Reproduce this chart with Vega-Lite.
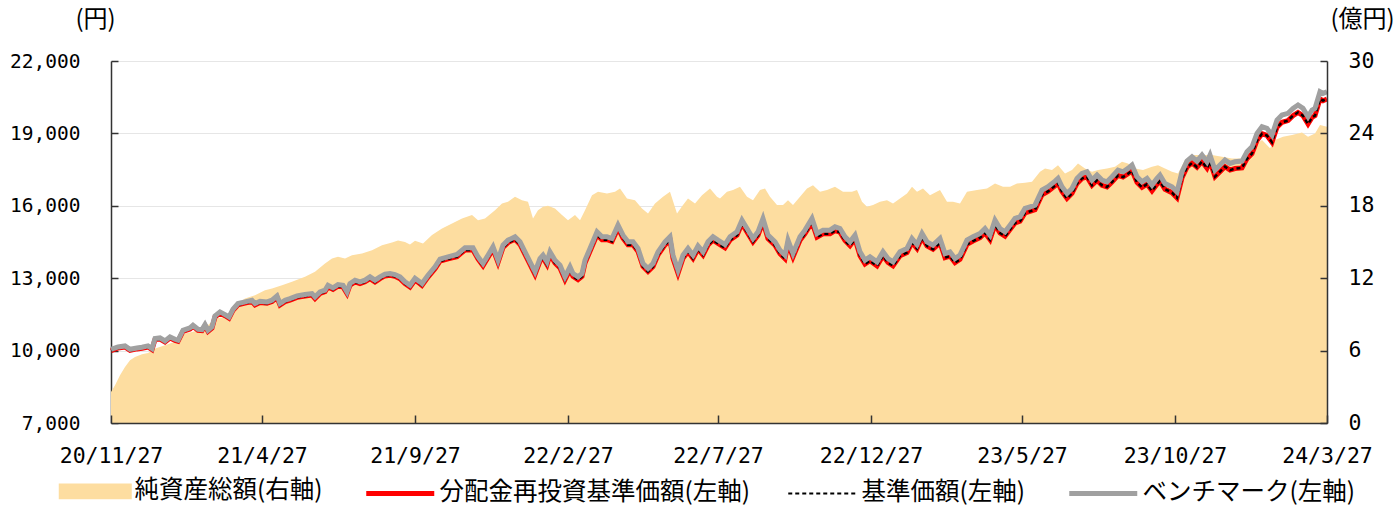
{
  "$schema": "https://vega.github.io/schema/vega-lite/v6.json",
  "width": 1216,
  "height": 362,
  "autosize": "none",
  "padding": {"left": 111, "top": 61, "right": 71, "bottom": 85},
  "background": "white",
  "config": {
    "font": "Noto Sans CJK JP",
    "view": {"stroke": null},
    "axis": {"domainColor": "#333333", "domainWidth": 1.5, "tickColor": "#333333", "tickWidth": 1.5, "labelColor": "#000000", "gridColor": "#E6E6E6", "gridWidth": 1, "titleFontWeight": "normal", "titleColor": "#000000"}
  },
  "datasets": {
    "nav": [
      {"date": "2020-11-27", "nav": 10000, "bm": 10050},
      {"date": "2020-12-04", "nav": 10110, "bm": 10152},
      {"date": "2020-12-11", "nav": 10150, "bm": 10194},
      {"date": "2020-12-16", "nav": 10010, "bm": 10055},
      {"date": "2020-12-23", "nav": 10070, "bm": 10111},
      {"date": "2020-12-28", "nav": 10095, "bm": 10138},
      {"date": "2021-01-03", "nav": 10150, "bm": 10194},
      {"date": "2021-01-07", "nav": 10040, "bm": 10083},
      {"date": "2021-01-10", "nav": 10455, "bm": 10500},
      {"date": "2021-01-15", "nav": 10480, "bm": 10525},
      {"date": "2021-01-20", "nav": 10360, "bm": 10401},
      {"date": "2021-01-25", "nav": 10520, "bm": 10567},
      {"date": "2021-01-30", "nav": 10425, "bm": 10470},
      {"date": "2021-02-02", "nav": 10385, "bm": 10428},
      {"date": "2021-02-07", "nav": 10800, "bm": 10843},
      {"date": "2021-02-14", "nav": 10895, "bm": 10940},
      {"date": "2021-02-17", "nav": 11005, "bm": 11050},
      {"date": "2021-02-22", "nav": 10840, "bm": 10884},
      {"date": "2021-02-26", "nav": 10825, "bm": 10870},
      {"date": "2021-03-01", "nav": 11030, "bm": 11078},
      {"date": "2021-03-04", "nav": 10795, "bm": 10843},
      {"date": "2021-03-08", "nav": 10935, "bm": 10981},
      {"date": "2021-03-11", "nav": 11390, "bm": 11438},
      {"date": "2021-03-16", "nav": 11555, "bm": 11604},
      {"date": "2021-03-21", "nav": 11445, "bm": 11493},
      {"date": "2021-03-25", "nav": 11345, "bm": 11396},
      {"date": "2021-03-29", "nav": 11665, "bm": 11714},
      {"date": "2021-04-03", "nav": 11900, "bm": 11950},
      {"date": "2021-04-10", "nav": 11965, "bm": 12018},
      {"date": "2021-04-17", "nav": 12035, "bm": 12087},
      {"date": "2021-04-20", "nav": 11895, "bm": 11950},
      {"date": "2021-04-25", "nav": 11990, "bm": 12046},
      {"date": "2021-05-02", "nav": 11960, "bm": 12018},
      {"date": "2021-05-07", "nav": 12030, "bm": 12087},
      {"date": "2021-05-12", "nav": 12210, "bm": 12267},
      {"date": "2021-05-15", "nav": 11890, "bm": 11950},
      {"date": "2021-05-20", "nav": 12030, "bm": 12087},
      {"date": "2021-05-25", "nav": 12095, "bm": 12156},
      {"date": "2021-06-01", "nav": 12205, "bm": 12267},
      {"date": "2021-06-09", "nav": 12260, "bm": 12322},
      {"date": "2021-06-16", "nav": 12300, "bm": 12364},
      {"date": "2021-06-19", "nav": 12160, "bm": 12225},
      {"date": "2021-06-24", "nav": 12370, "bm": 12433},
      {"date": "2021-06-29", "nav": 12440, "bm": 12502},
      {"date": "2021-07-02", "nav": 12645, "bm": 12709},
      {"date": "2021-07-07", "nav": 12535, "bm": 12599},
      {"date": "2021-07-12", "nav": 12670, "bm": 12737},
      {"date": "2021-07-17", "nav": 12640, "bm": 12709},
      {"date": "2021-07-21", "nav": 12365, "bm": 12433},
      {"date": "2021-07-24", "nav": 12710, "bm": 12779},
      {"date": "2021-07-29", "nav": 12850, "bm": 12917},
      {"date": "2021-08-03", "nav": 12780, "bm": 12848},
      {"date": "2021-08-08", "nav": 12850, "bm": 12917},
      {"date": "2021-08-13", "nav": 12985, "bm": 13055},
      {"date": "2021-08-18", "nav": 12845, "bm": 12917},
      {"date": "2021-08-23", "nav": 12985, "bm": 13055},
      {"date": "2021-08-28", "nav": 13095, "bm": 13166},
      {"date": "2021-09-02", "nav": 13120, "bm": 13194},
      {"date": "2021-09-07", "nav": 13080, "bm": 13152},
      {"date": "2021-09-12", "nav": 12980, "bm": 13055},
      {"date": "2021-09-17", "nav": 12775, "bm": 12848},
      {"date": "2021-09-22", "nav": 12635, "bm": 12709},
      {"date": "2021-09-27", "nav": 12925, "bm": 13000},
      {"date": "2021-10-02", "nav": 12770, "bm": 12848},
      {"date": "2021-10-04", "nav": 12700, "bm": 12779},
      {"date": "2021-10-10", "nav": 13045, "bm": 13124},
      {"date": "2021-10-17", "nav": 13390, "bm": 13470},
      {"date": "2021-10-22", "nav": 13705, "bm": 13788},
      {"date": "2021-10-30", "nav": 13800, "bm": 13885},
      {"date": "2021-11-08", "nav": 13895, "bm": 13982},
      {"date": "2021-11-16", "nav": 14170, "bm": 14258},
      {"date": "2021-11-24", "nav": 14170, "bm": 14258},
      {"date": "2021-11-29", "nav": 13795, "bm": 13885},
      {"date": "2021-12-04", "nav": 13515, "bm": 13608},
      {"date": "2021-12-09", "nav": 13860, "bm": 13954},
      {"date": "2021-12-14", "nav": 14205, "bm": 14300},
      {"date": "2021-12-19", "nav": 13650, "bm": 13746},
      {"date": "2021-12-24", "nav": 14270, "bm": 14369},
      {"date": "2021-12-29", "nav": 14475, "bm": 14576},
      {"date": "2022-01-05", "nav": 14610, "bm": 14714},
      {"date": "2022-01-10", "nav": 14400, "bm": 14507},
      {"date": "2022-01-15", "nav": 13985, "bm": 14092},
      {"date": "2022-01-20", "nav": 13570, "bm": 13678},
      {"date": "2022-01-25", "nav": 13155, "bm": 13263},
      {"date": "2022-01-30", "nav": 13705, "bm": 13815},
      {"date": "2022-02-02", "nav": 13845, "bm": 13954},
      {"date": "2022-02-06", "nav": 13565, "bm": 13678},
      {"date": "2022-02-09", "nav": 13980, "bm": 14092},
      {"date": "2022-02-14", "nav": 13635, "bm": 13746},
      {"date": "2022-02-19", "nav": 13425, "bm": 13539},
      {"date": "2022-02-24", "nav": 12940, "bm": 13055},
      {"date": "2022-03-01", "nav": 13355, "bm": 13470},
      {"date": "2022-03-04", "nav": 13080, "bm": 13194},
      {"date": "2022-03-09", "nav": 12940, "bm": 13055},
      {"date": "2022-03-13", "nav": 13075, "bm": 13194},
      {"date": "2022-03-16", "nav": 13630, "bm": 13746},
      {"date": "2022-03-21", "nav": 14115, "bm": 14231},
      {"date": "2022-03-28", "nav": 14800, "bm": 14922},
      {"date": "2022-04-02", "nav": 14595, "bm": 14714},
      {"date": "2022-04-07", "nav": 14595, "bm": 14714},
      {"date": "2022-04-12", "nav": 14525, "bm": 14645},
      {"date": "2022-04-18", "nav": 15075, "bm": 15198},
      {"date": "2022-04-23", "nav": 14660, "bm": 14783},
      {"date": "2022-04-28", "nav": 14385, "bm": 14507},
      {"date": "2022-05-03", "nav": 14385, "bm": 14507},
      {"date": "2022-05-08", "nav": 14105, "bm": 14231},
      {"date": "2022-05-13", "nav": 13485, "bm": 13608},
      {"date": "2022-05-18", "nav": 13275, "bm": 13401},
      {"date": "2022-05-23", "nav": 13480, "bm": 13608},
      {"date": "2022-05-28", "nav": 13965, "bm": 14092},
      {"date": "2022-06-04", "nav": 14380, "bm": 14507},
      {"date": "2022-06-09", "nav": 14585, "bm": 14714},
      {"date": "2022-06-12", "nav": 13825, "bm": 13954},
      {"date": "2022-06-17", "nav": 13200, "bm": 13332},
      {"date": "2022-06-22", "nav": 13825, "bm": 13954},
      {"date": "2022-06-27", "nav": 14100, "bm": 14231},
      {"date": "2022-07-02", "nav": 13820, "bm": 13954},
      {"date": "2022-07-07", "nav": 14210, "bm": 14341},
      {"date": "2022-07-12", "nav": 13960, "bm": 14092},
      {"date": "2022-07-17", "nav": 14375, "bm": 14507},
      {"date": "2022-07-22", "nav": 14580, "bm": 14714},
      {"date": "2022-07-27", "nav": 14440, "bm": 14576},
      {"date": "2022-08-03", "nav": 14260, "bm": 14396},
      {"date": "2022-08-08", "nav": 14580, "bm": 14714},
      {"date": "2022-08-15", "nav": 14785, "bm": 14922},
      {"date": "2022-08-20", "nav": 15270, "bm": 15406},
      {"date": "2022-08-25", "nav": 14920, "bm": 15060},
      {"date": "2022-08-31", "nav": 14505, "bm": 14645},
      {"date": "2022-09-05", "nav": 14780, "bm": 14922},
      {"date": "2022-09-10", "nav": 15335, "bm": 15475},
      {"date": "2022-09-15", "nav": 14640, "bm": 14783},
      {"date": "2022-09-22", "nav": 14365, "bm": 14507},
      {"date": "2022-09-27", "nav": 14020, "bm": 14161},
      {"date": "2022-10-02", "nav": 13810, "bm": 13954},
      {"date": "2022-10-05", "nav": 14430, "bm": 14576},
      {"date": "2022-10-10", "nav": 13880, "bm": 14023},
      {"date": "2022-10-17", "nav": 14570, "bm": 14714},
      {"date": "2022-10-22", "nav": 14845, "bm": 14991},
      {"date": "2022-10-29", "nav": 15325, "bm": 15475},
      {"date": "2022-11-03", "nav": 14705, "bm": 14853},
      {"date": "2022-11-09", "nav": 14840, "bm": 14991},
      {"date": "2022-11-16", "nav": 14840, "bm": 14991},
      {"date": "2022-11-21", "nav": 14975, "bm": 15129},
      {"date": "2022-11-26", "nav": 14905, "bm": 15060},
      {"date": "2022-12-01", "nav": 14560, "bm": 14714},
      {"date": "2022-12-06", "nav": 14350, "bm": 14507},
      {"date": "2022-12-11", "nav": 14625, "bm": 14783},
      {"date": "2022-12-16", "nav": 13935, "bm": 14092},
      {"date": "2022-12-21", "nav": 13590, "bm": 13746},
      {"date": "2022-12-26", "nav": 13725, "bm": 13885},
      {"date": "2023-01-02", "nav": 13515, "bm": 13678},
      {"date": "2023-01-08", "nav": 13930, "bm": 14092},
      {"date": "2023-01-13", "nav": 13655, "bm": 13815},
      {"date": "2023-01-18", "nav": 13515, "bm": 13678},
      {"date": "2023-01-25", "nav": 13930, "bm": 14092},
      {"date": "2023-02-01", "nav": 14065, "bm": 14231},
      {"date": "2023-02-06", "nav": 14480, "bm": 14645},
      {"date": "2023-02-11", "nav": 14230, "bm": 14396},
      {"date": "2023-02-16", "nav": 14685, "bm": 14853},
      {"date": "2023-02-21", "nav": 14340, "bm": 14507},
      {"date": "2023-02-27", "nav": 14200, "bm": 14369},
      {"date": "2023-03-06", "nav": 14475, "bm": 14645},
      {"date": "2023-03-11", "nav": 13855, "bm": 14023},
      {"date": "2023-03-16", "nav": 13920, "bm": 14092},
      {"date": "2023-03-21", "nav": 13645, "bm": 13815},
      {"date": "2023-03-26", "nav": 13780, "bm": 13954},
      {"date": "2023-04-02", "nav": 14400, "bm": 14576},
      {"date": "2023-04-08", "nav": 14540, "bm": 14714},
      {"date": "2023-04-15", "nav": 14675, "bm": 14853},
      {"date": "2023-04-20", "nav": 14880, "bm": 15060},
      {"date": "2023-04-25", "nav": 14600, "bm": 14783},
      {"date": "2023-04-30", "nav": 15225, "bm": 15406},
      {"date": "2023-05-05", "nav": 14875, "bm": 15060},
      {"date": "2023-05-10", "nav": 14740, "bm": 14922},
      {"date": "2023-05-15", "nav": 15015, "bm": 15198},
      {"date": "2023-05-20", "nav": 15290, "bm": 15475},
      {"date": "2023-05-25", "nav": 15360, "bm": 15544},
      {"date": "2023-05-30", "nav": 15705, "bm": 15890},
      {"date": "2023-06-04", "nav": 15770, "bm": 15958},
      {"date": "2023-06-09", "nav": 15840, "bm": 16028},
      {"date": "2023-06-16", "nav": 16460, "bm": 16650},
      {"date": "2023-06-22", "nav": 16595, "bm": 16788},
      {"date": "2023-06-29", "nav": 16830, "bm": 17023},
      {"date": "2023-07-02", "nav": 16940, "bm": 17134},
      {"date": "2023-07-06", "nav": 16590, "bm": 16788},
      {"date": "2023-07-11", "nav": 16310, "bm": 16512},
      {"date": "2023-07-16", "nav": 16515, "bm": 16719},
      {"date": "2023-07-21", "nav": 16930, "bm": 17134},
      {"date": "2023-07-26", "nav": 17135, "bm": 17341},
      {"date": "2023-07-31", "nav": 17200, "bm": 17410},
      {"date": "2023-08-05", "nav": 16855, "bm": 17065},
      {"date": "2023-08-10", "nav": 17060, "bm": 17272},
      {"date": "2023-08-15", "nav": 16850, "bm": 17065},
      {"date": "2023-08-20", "nav": 16780, "bm": 16995},
      {"date": "2023-08-25", "nav": 16985, "bm": 17203},
      {"date": "2023-08-31", "nav": 17260, "bm": 17479},
      {"date": "2023-09-05", "nav": 17190, "bm": 17410},
      {"date": "2023-09-10", "nav": 17325, "bm": 17548},
      {"date": "2023-09-14", "nav": 17460, "bm": 17687},
      {"date": "2023-09-19", "nav": 16975, "bm": 17203},
      {"date": "2023-09-24", "nav": 16765, "bm": 16995},
      {"date": "2023-09-29", "nav": 16900, "bm": 17134},
      {"date": "2023-10-04", "nav": 16620, "bm": 16857},
      {"date": "2023-10-09", "nav": 16895, "bm": 17134},
      {"date": "2023-10-12", "nav": 17030, "bm": 17272},
      {"date": "2023-10-17", "nav": 16685, "bm": 16926},
      {"date": "2023-10-24", "nav": 16545, "bm": 16788},
      {"date": "2023-10-29", "nav": 16335, "bm": 16581},
      {"date": "2023-11-03", "nav": 17160, "bm": 17410},
      {"date": "2023-11-08", "nav": 17600, "bm": 17852},
      {"date": "2023-11-13", "nav": 17775, "bm": 18032},
      {"date": "2023-11-18", "nav": 17595, "bm": 17852},
      {"date": "2023-11-23", "nav": 17840, "bm": 18101},
      {"date": "2023-11-28", "nav": 17560, "bm": 17825},
      {"date": "2023-12-01", "nav": 17835, "bm": 18101},
      {"date": "2023-12-06", "nav": 17210, "bm": 17479},
      {"date": "2023-12-11", "nav": 17415, "bm": 17687},
      {"date": "2023-12-16", "nav": 17620, "bm": 17894},
      {"date": "2023-12-21", "nav": 17480, "bm": 17756},
      {"date": "2023-12-26", "nav": 17545, "bm": 17825},
      {"date": "2024-01-02", "nav": 17570, "bm": 17852},
      {"date": "2024-01-07", "nav": 17955, "bm": 18239},
      {"date": "2024-01-12", "nav": 18160, "bm": 18446},
      {"date": "2024-01-17", "nav": 18710, "bm": 19000},
      {"date": "2024-01-22", "nav": 18985, "bm": 19277},
      {"date": "2024-01-27", "nav": 18915, "bm": 19208},
      {"date": "2024-02-01", "nav": 18635, "bm": 18931},
      {"date": "2024-02-06", "nav": 19255, "bm": 19553},
      {"date": "2024-02-11", "nav": 19460, "bm": 19760},
      {"date": "2024-02-17", "nav": 19530, "bm": 19830},
      {"date": "2024-02-22", "nav": 19735, "bm": 20037},
      {"date": "2024-02-27", "nav": 19870, "bm": 20175},
      {"date": "2024-03-03", "nav": 19735, "bm": 20037},
      {"date": "2024-03-08", "nav": 19390, "bm": 19691},
      {"date": "2024-03-12", "nav": 19665, "bm": 19968},
      {"date": "2024-03-15", "nav": 19735, "bm": 20037},
      {"date": "2024-03-20", "nav": 20425, "bm": 20728},
      {"date": "2024-03-23", "nav": 20355, "bm": 20659},
      {"date": "2024-03-27", "nav": 20425, "bm": 20728}
    ],
    "assets": [
      {"date": "2020-11-27", "v": 2.57},
      {"date": "2020-12-01", "v": 3.12},
      {"date": "2020-12-06", "v": 3.95},
      {"date": "2020-12-11", "v": 4.64},
      {"date": "2020-12-16", "v": 5.2},
      {"date": "2020-12-21", "v": 5.47},
      {"date": "2020-12-28", "v": 5.7},
      {"date": "2021-01-03", "v": 5.81},
      {"date": "2021-01-10", "v": 6.17},
      {"date": "2021-01-20", "v": 6.44},
      {"date": "2021-01-27", "v": 6.66},
      {"date": "2021-02-02", "v": 6.77},
      {"date": "2021-02-09", "v": 7.41},
      {"date": "2021-02-16", "v": 7.55},
      {"date": "2021-02-22", "v": 7.69},
      {"date": "2021-03-01", "v": 7.88},
      {"date": "2021-03-11", "v": 8.65},
      {"date": "2021-03-21", "v": 8.79},
      {"date": "2021-03-28", "v": 9.07},
      {"date": "2021-04-03", "v": 9.9},
      {"date": "2021-04-10", "v": 10.31},
      {"date": "2021-04-20", "v": 10.59},
      {"date": "2021-04-30", "v": 11.0},
      {"date": "2021-05-07", "v": 11.14},
      {"date": "2021-05-17", "v": 11.42},
      {"date": "2021-05-27", "v": 11.7},
      {"date": "2021-06-09", "v": 12.11},
      {"date": "2021-06-19", "v": 12.53},
      {"date": "2021-06-29", "v": 13.22},
      {"date": "2021-07-06", "v": 13.63},
      {"date": "2021-07-12", "v": 13.77},
      {"date": "2021-07-19", "v": 13.63},
      {"date": "2021-07-26", "v": 13.91},
      {"date": "2021-08-05", "v": 14.05},
      {"date": "2021-08-15", "v": 14.32},
      {"date": "2021-08-25", "v": 14.74},
      {"date": "2021-09-04", "v": 14.96},
      {"date": "2021-09-10", "v": 15.12},
      {"date": "2021-09-17", "v": 15.01},
      {"date": "2021-09-22", "v": 14.79},
      {"date": "2021-09-27", "v": 15.1},
      {"date": "2021-10-05", "v": 14.88},
      {"date": "2021-10-14", "v": 15.57},
      {"date": "2021-10-24", "v": 16.12},
      {"date": "2021-11-03", "v": 16.53},
      {"date": "2021-11-13", "v": 16.95},
      {"date": "2021-11-23", "v": 17.23},
      {"date": "2021-11-29", "v": 16.81},
      {"date": "2021-12-06", "v": 16.95},
      {"date": "2021-12-16", "v": 17.64},
      {"date": "2021-12-23", "v": 18.19},
      {"date": "2021-12-29", "v": 18.33},
      {"date": "2022-01-05", "v": 18.75},
      {"date": "2022-01-12", "v": 18.47},
      {"date": "2022-01-18", "v": 18.33},
      {"date": "2022-01-23", "v": 16.95},
      {"date": "2022-01-28", "v": 17.64},
      {"date": "2022-02-02", "v": 17.92},
      {"date": "2022-02-07", "v": 18.0},
      {"date": "2022-02-14", "v": 17.78},
      {"date": "2022-02-21", "v": 17.23},
      {"date": "2022-02-27", "v": 16.81},
      {"date": "2022-03-06", "v": 17.23},
      {"date": "2022-03-11", "v": 16.81},
      {"date": "2022-03-16", "v": 17.64},
      {"date": "2022-03-23", "v": 18.88},
      {"date": "2022-03-29", "v": 19.16},
      {"date": "2022-04-07", "v": 19.02},
      {"date": "2022-04-15", "v": 19.16},
      {"date": "2022-04-20", "v": 19.44},
      {"date": "2022-04-27", "v": 18.61},
      {"date": "2022-05-05", "v": 18.47},
      {"date": "2022-05-12", "v": 17.78},
      {"date": "2022-05-18", "v": 17.36},
      {"date": "2022-05-25", "v": 18.19},
      {"date": "2022-06-02", "v": 18.75},
      {"date": "2022-06-09", "v": 19.16},
      {"date": "2022-06-16", "v": 17.36},
      {"date": "2022-06-22", "v": 18.06},
      {"date": "2022-06-27", "v": 18.61},
      {"date": "2022-07-04", "v": 18.19},
      {"date": "2022-07-11", "v": 18.88},
      {"date": "2022-07-19", "v": 19.44},
      {"date": "2022-07-26", "v": 18.75},
      {"date": "2022-07-29", "v": 18.61},
      {"date": "2022-08-05", "v": 19.16},
      {"date": "2022-08-11", "v": 19.3},
      {"date": "2022-08-18", "v": 19.58},
      {"date": "2022-08-25", "v": 18.75},
      {"date": "2022-08-31", "v": 18.47},
      {"date": "2022-09-07", "v": 19.3},
      {"date": "2022-09-12", "v": 19.44},
      {"date": "2022-09-17", "v": 18.75},
      {"date": "2022-09-24", "v": 18.06},
      {"date": "2022-09-30", "v": 18.06},
      {"date": "2022-10-05", "v": 18.47},
      {"date": "2022-10-10", "v": 18.06},
      {"date": "2022-10-17", "v": 18.75},
      {"date": "2022-10-24", "v": 19.44},
      {"date": "2022-10-30", "v": 19.71},
      {"date": "2022-11-06", "v": 19.16},
      {"date": "2022-11-13", "v": 19.3},
      {"date": "2022-11-21", "v": 19.58},
      {"date": "2022-11-29", "v": 19.16},
      {"date": "2022-12-08", "v": 19.16},
      {"date": "2022-12-13", "v": 19.3},
      {"date": "2022-12-18", "v": 18.33},
      {"date": "2022-12-23", "v": 17.92},
      {"date": "2022-12-29", "v": 18.06},
      {"date": "2023-01-05", "v": 18.33},
      {"date": "2023-01-12", "v": 18.47},
      {"date": "2023-01-18", "v": 18.19},
      {"date": "2023-01-25", "v": 18.61},
      {"date": "2023-02-01", "v": 19.02},
      {"date": "2023-02-06", "v": 19.58},
      {"date": "2023-02-11", "v": 19.16},
      {"date": "2023-02-17", "v": 19.44},
      {"date": "2023-02-24", "v": 18.88},
      {"date": "2023-03-06", "v": 19.3},
      {"date": "2023-03-13", "v": 18.33},
      {"date": "2023-03-19", "v": 18.33},
      {"date": "2023-03-26", "v": 18.19},
      {"date": "2023-04-02", "v": 19.16},
      {"date": "2023-04-12", "v": 19.3},
      {"date": "2023-04-22", "v": 19.44},
      {"date": "2023-04-30", "v": 19.85},
      {"date": "2023-05-08", "v": 19.58},
      {"date": "2023-05-15", "v": 19.58},
      {"date": "2023-05-22", "v": 19.85},
      {"date": "2023-05-30", "v": 19.9},
      {"date": "2023-06-06", "v": 19.99},
      {"date": "2023-06-14", "v": 20.82},
      {"date": "2023-06-19", "v": 21.1},
      {"date": "2023-06-26", "v": 20.96},
      {"date": "2023-07-02", "v": 21.37},
      {"date": "2023-07-09", "v": 20.68},
      {"date": "2023-07-16", "v": 20.96},
      {"date": "2023-07-22", "v": 21.51},
      {"date": "2023-07-29", "v": 21.1},
      {"date": "2023-08-05", "v": 20.82},
      {"date": "2023-08-11", "v": 20.96},
      {"date": "2023-08-20", "v": 21.1},
      {"date": "2023-08-28", "v": 21.24},
      {"date": "2023-09-04", "v": 21.65},
      {"date": "2023-09-10", "v": 21.51},
      {"date": "2023-09-17", "v": 21.1},
      {"date": "2023-09-25", "v": 20.96},
      {"date": "2023-10-04", "v": 21.24},
      {"date": "2023-10-10", "v": 21.37},
      {"date": "2023-10-17", "v": 21.1},
      {"date": "2023-10-24", "v": 20.82},
      {"date": "2023-10-30", "v": 20.68},
      {"date": "2023-11-06", "v": 21.79},
      {"date": "2023-11-13", "v": 22.2},
      {"date": "2023-11-23", "v": 22.2},
      {"date": "2023-12-03", "v": 22.2},
      {"date": "2023-12-13", "v": 22.06},
      {"date": "2023-12-23", "v": 21.93},
      {"date": "2024-01-02", "v": 21.93},
      {"date": "2024-01-08", "v": 22.48},
      {"date": "2024-01-15", "v": 23.03},
      {"date": "2024-01-22", "v": 23.45},
      {"date": "2024-01-30", "v": 22.76},
      {"date": "2024-02-04", "v": 23.45},
      {"date": "2024-02-12", "v": 23.72},
      {"date": "2024-02-21", "v": 23.86},
      {"date": "2024-03-02", "v": 24.08},
      {"date": "2024-03-08", "v": 23.72},
      {"date": "2024-03-15", "v": 24.0},
      {"date": "2024-03-20", "v": 24.69},
      {"date": "2024-03-27", "v": 24.55}
    ]
  },
  "layer": [
    {
      "data": {"name": "assets"},
      "mark": {"type": "area"},
      "encoding": {
        "x": {
          "field": "date", "type": "temporal",
          "scale": {"type": "utc", "domain": [{"year": 2020, "month": 11, "date": 27, "utc": true}, {"year": 2024, "month": 3, "date": 27, "utc": true}]},
          "axis": {
            "values": [
              {"year": 2020, "month": 11, "date": 27, "utc": true},
              {"year": 2021, "month": 4, "date": 27, "utc": true},
              {"year": 2021, "month": 9, "date": 27, "utc": true},
              {"year": 2022, "month": 2, "date": 27, "utc": true},
              {"year": 2022, "month": 7, "date": 27, "utc": true},
              {"year": 2022, "month": 12, "date": 27, "utc": true},
              {"year": 2023, "month": 5, "date": 27, "utc": true},
              {"year": 2023, "month": 10, "date": 27, "utc": true},
              {"year": 2024, "month": 3, "date": 27, "utc": true}
            ],
            "labelExpr": "utcFormat(datum.value, '%y/%-m/%-d')",
            "title": null, "grid": false, "tickSize": -8, "labelPadding": 30,
            "labelFont": "DejaVu Sans Mono", "labelFontSize": 21.5, "labelFlush": false, "labelOverlap": false, "zindex": 1
          }
        },
        "y": {
          "field": "v", "type": "quantitative",
          "scale": {"domain": [0, 30], "nice": false, "zero": true},
          "axis": {
            "orient": "right", "values": [0, 6, 12, 18, 24, 30], "grid": false, "tickSize": -7, "labelPadding": 28,
            "labelFont": "DejaVu Sans Mono", "labelFontSize": 21.5, "labelAlign": "left",
            "title": "(億円)", "titleAngle": 0, "titleX": 35, "titleY": -42, "titleAlign": "center", "titleBaseline": "middle",
            "titleFont": "Noto Sans CJK JP", "titleFontSize": 24, "zindex": 1
          }
        },
        "color": {
          "datum": "純資産総額(右軸)", "type": "nominal",
          "scale": {"domain": ["純資産総額(右軸)", "分配金再投資基準価額(左軸)", "基準価額(左軸)", "ベンチマーク(左軸)"], "range": ["#FDDDA0", "#FF0000", "#000000", "#A0A0A0"]},
          "legend": {
            "orient": "none", "legendX": -28, "legendY": 418, "direction": "horizontal", "title": null,
            "symbolSize": 4624, "symbolType": "stroke", "symbolStrokeWidth": 5,
            "labelFont": "Noto Sans CJK JP", "labelFontSize": 24.5, "labelColor": "#000000", "labelOffset": 27, "labelLimit": 1000,
            "columnPadding": 33,
            "encode": {
              "symbols": {
                "update": {
                  "shape": {"signal": "datum.value === '純資産総額(右軸)' ? 'M-1,-0.16H1V0.16H-1Z' : 'stroke'"},
                  "fill": {"signal": "datum.value === '純資産総額(右軸)' ? '#FDDDA0' : 'transparent'"},
                  "stroke": {"signal": "datum.value === '純資産総額(右軸)' ? 'transparent' : datum.value === '分配金再投資基準価額(左軸)' ? '#FF0000' : datum.value === '基準価額(左軸)' ? '#000000' : '#A0A0A0'"},
                  "strokeWidth": {"signal": "datum.value === '基準価額(左軸)' ? 2 : 5"},
                  "strokeDash": {"signal": "datum.value === '基準価額(左軸)' ? [4, 3] : []"},
                  "opacity": {"value": 1}
                }
              }
            }
          }
        }
      }
    },
    {
      "data": {"name": "nav"},
      "layer": [
        {
          "mark": {"type": "line", "strokeWidth": 5},
          "encoding": {
            "x": {"field": "date", "type": "temporal"},
            "y": {
              "field": "nav", "type": "quantitative",
              "scale": {"domain": [7000, 22000], "nice": false, "zero": false},
              "axis": {
                "orient": "left", "values": [7000, 10000, 13000, 16000, 19000, 22000], "format": ",.0f", "grid": true, "tickSize": -7, "labelPadding": 38,
                "labelFont": "DejaVu Sans Mono", "labelFontSize": 19.5,
                "title": "(円)", "titleAngle": 0, "titleX": -16, "titleY": -42, "titleAlign": "center", "titleBaseline": "middle",
                "titleFont": "Noto Sans CJK JP", "titleFontSize": 24, "zindex": 0
              }
            },
            "color": {"datum": "分配金再投資基準価額(左軸)", "type": "nominal"}
          }
        },
        {
          "mark": {"type": "line", "strokeWidth": 2.5, "strokeDash": [4, 3]},
          "encoding": {
            "x": {"field": "date", "type": "temporal"},
            "y": {"field": "nav", "type": "quantitative"},
            "color": {"datum": "基準価額(左軸)", "type": "nominal"}
          }
        },
        {
          "mark": {"type": "line", "strokeWidth": 5},
          "encoding": {
            "x": {"field": "date", "type": "temporal"},
            "y": {"field": "bm", "type": "quantitative"},
            "color": {"datum": "ベンチマーク(左軸)", "type": "nominal"}
          }
        }
      ]
    }
  ],
  "resolve": {"scale": {"y": "independent"}}
}
